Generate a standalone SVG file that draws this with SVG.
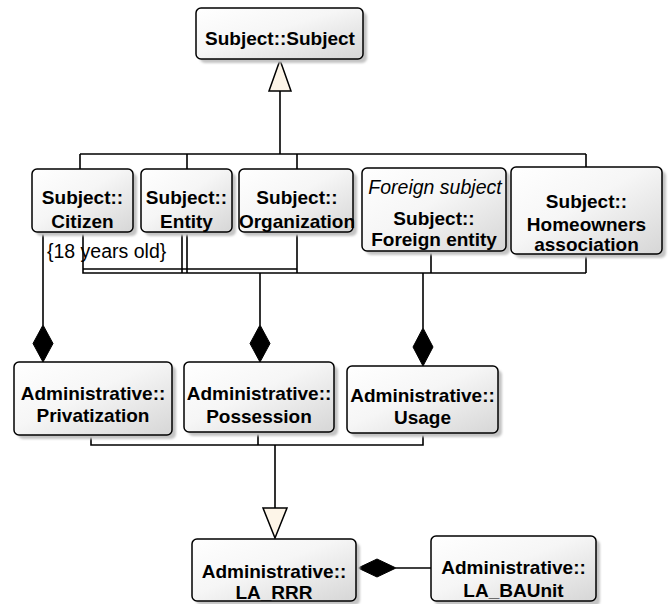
<svg xmlns="http://www.w3.org/2000/svg" width="672" height="604" viewBox="0 0 672 604">
  <style>
    .box { fill: url(#boxFill); stroke: #000; stroke-width: 1.5; }
    .shadow { fill: #c4c4c4; filter: url(#soft); }
    .name { font-family: "Liberation Sans", Arial, sans-serif; font-size: 19px; font-weight: bold; fill: #000; text-anchor: middle; }
    .stereo { font-family: "Liberation Sans", Arial, sans-serif; font-size: 19.5px; font-style: italic; fill: #000; text-anchor: middle; }
    .note { font-family: "Liberation Sans", Arial, sans-serif; font-size: 19.5px; fill: #000; }
    .wire { fill: none; stroke: #000; stroke-width: 1.6; }
    .hollow { fill: #fdf5e8; stroke: #000; stroke-width: 1.5; }
    .solid { fill: #000; stroke: #000; stroke-width: 1; }
  </style>
  <defs>
    <linearGradient id="boxFill" x1="0" y1="0" x2="1" y2="1">
      <stop offset="0" stop-color="#ffffff"/>
      <stop offset="0.45" stop-color="#f6f6f6"/>
      <stop offset="1" stop-color="#d6d6d6"/>
    </linearGradient>
    <filter id="soft" x="-10%" y="-10%" width="120%" height="120%">
      <feGaussianBlur stdDeviation="1.2"/>
    </filter>
  </defs>

  <!-- connectors -->
  <g id="connectors">
    <!-- generalization: subject kinds to Subject::Subject -->
    <path class="wire" d="M280,154 V91 M80,154 H586 M80,154 V169 M187,154 V169 M297,154 V169 M586,154 V167"/>
    <polygon class="hollow" points="280,60 291,91 269,91"/>

    <!-- composition: Citizen to Privatization -->
    <path class="wire" d="M43,232 V325"/>
    <polygon class="solid" points="43,325 53,343.5 43,362 33,343.5"/>

    <!-- composition bus: subjects to Possession and Usage -->
    <path class="wire" d="M83,232 V273 H586 M83,269 H297 M182,232 V273 M187,232 V273 M297,232 V273 M431,251 V273 M586,254 V273"/>
    <path class="wire" d="M260,273 V325"/>
    <polygon class="solid" points="260,325 270,343.5 260,362 250,343.5"/>
    <path class="wire" d="M423,273 V328"/>
    <polygon class="solid" points="423,328 433,347 423,366 413,347"/>

    <!-- generalization: rights to LA_RRR -->
    <path class="wire" d="M91,435 V445 H423 V433 M258,432 V445 M275,445 V508"/>
    <polygon class="hollow" points="275,538 287,508 263,508"/>

    <!-- composition: LA_BAUnit to LA_RRR -->
    <path class="wire" d="M431,568 H396"/>
    <polygon class="solid" points="358,568 377,559 396,568 377,577"/>
  </g>

  <!-- nodes -->
  <g id="subject">
    <rect class="shadow" x="200" y="12" width="167" height="51" rx="5"/>
    <rect class="box" x="196" y="8" width="167" height="51" rx="5"/>
    <text class="name" x="280" y="45">Subject::Subject</text>
  </g>

  <g id="citizen">
    <rect class="shadow" x="36" y="173" width="101" height="63" rx="5"/>
    <rect class="box" x="32" y="169" width="101" height="63" rx="5"/>
    <text class="name" x="82.5" y="204">Subject::</text>
    <text class="name" x="82.5" y="228">Citizen</text>
  </g>
  <text id="citizen-constraint" class="note" x="47" y="258">{18 years old}</text>

  <g id="entity">
    <rect class="shadow" x="145" y="173" width="91" height="63" rx="5"/>
    <rect class="box" x="141" y="169" width="91" height="63" rx="5"/>
    <text class="name" x="186.5" y="204">Subject::</text>
    <text class="name" x="186.5" y="228">Entity</text>
  </g>

  <g id="organization">
    <rect class="shadow" x="243" y="173" width="114" height="63" rx="5"/>
    <rect class="box" x="239" y="169" width="114" height="63" rx="5"/>
    <text class="name" x="297" y="204">Subject::</text>
    <text class="name" x="297" y="228">Organization</text>
  </g>

  <g id="foreign-entity">
    <rect class="shadow" x="366" y="172" width="144" height="83" rx="5"/>
    <rect class="box" x="362" y="168" width="144" height="83" rx="5"/>
    <text class="stereo" x="435" y="194">Foreign subject</text>
    <text class="name" x="434" y="225">Subject::</text>
    <text class="name" x="434" y="246">Foreign entity</text>
  </g>

  <g id="homeowners">
    <rect class="shadow" x="515" y="171" width="151" height="87" rx="5"/>
    <rect class="box" x="511" y="167" width="151" height="87" rx="5"/>
    <text class="name" x="586.5" y="208">Subject::</text>
    <text class="name" x="586.5" y="231">Homeowners</text>
    <text class="name" x="586.5" y="251">association</text>
  </g>

  <g id="privatization">
    <rect class="shadow" x="18" y="366" width="158" height="73" rx="5"/>
    <rect class="box" x="14" y="362" width="158" height="73" rx="5"/>
    <text class="name" x="93" y="400">Administrative::</text>
    <text class="name" x="93" y="422">Privatization</text>
  </g>

  <g id="possession">
    <rect class="shadow" x="188" y="366" width="150" height="70" rx="5"/>
    <rect class="box" x="184" y="362" width="150" height="70" rx="5"/>
    <text class="name" x="259" y="400">Administrative::</text>
    <text class="name" x="259" y="423">Possession</text>
  </g>

  <g id="usage">
    <rect class="shadow" x="351" y="370" width="151" height="67" rx="5"/>
    <rect class="box" x="347" y="366" width="151" height="67" rx="5"/>
    <text class="name" x="422.5" y="402">Administrative::</text>
    <text class="name" x="422.5" y="424">Usage</text>
  </g>

  <g id="la-rrr">
    <rect class="shadow" x="196" y="543" width="164" height="62" rx="5"/>
    <rect class="box" x="192" y="539" width="164" height="62" rx="5"/>
    <text class="name" x="274" y="578">Administrative::</text>
    <text class="name" x="274" y="599">LA_RRR</text>
  </g>

  <g id="la-baunit">
    <rect class="shadow" x="435" y="540" width="165" height="66" rx="5"/>
    <rect class="box" x="431" y="536" width="165" height="65" rx="5"/>
    <text class="name" x="513.5" y="574">Administrative::</text>
    <text class="name" x="513.5" y="597">LA_BAUnit</text>
  </g>
</svg>
